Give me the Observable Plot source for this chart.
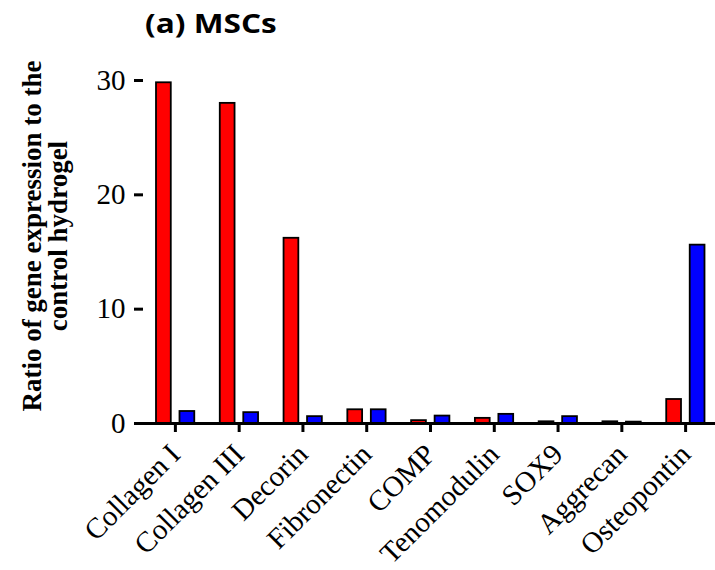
<!DOCTYPE html>
<html>
<head>
<meta charset="utf-8">
<script src="https://cdn.jsdelivr.net/npm/d3@7"></script>
<script src="https://cdn.jsdelivr.net/npm/@observablehq/plot@0.6"></script>
<style>
  html, body { margin: 0; padding: 0; background: #fff; }
  #wrap { position: relative; width: 715px; height: 570px; overflow: hidden; }
  #title { position: absolute; left: 145px; top: 7px; font: bold 27px "Open Sans", sans-serif; color: #000; line-height: 1.2; white-space: nowrap; transform: scaleX(1.17); transform-origin: left center; }
  #ylabel { position: absolute; left: 45px; top: 236px; transform: translate(-50%, -50%) rotate(-90deg);
    font: bold 27px "Liberation Serif", "Times New Roman", serif; line-height: 26px; text-align: center; white-space: nowrap; color: #000; }
  #chart { position: absolute; left: 0; top: 0; }
</style>
</head>
<body>
<div id="wrap">
  <div id="chart"></div>
  <div id="title">(a) MSCs</div>
  <div id="ylabel">Ratio of gene expression to the<br>control hydrogel</div>
</div>
<script>
const categories = ["Collagen I", "Collagen III", "Decorin", "Fibronectin", "COMP", "Tenomodulin", "SOX9", "Aggrecan", "Osteopontin"];
const redValues  = [29.8, 28.0, 16.2, 1.2, 0.25, 0.45, 0.15, 0.15, 2.1];
const blueValues = [1.05, 0.95, 0.6, 1.2, 0.65, 0.8, 0.6, 0.12, 15.6];
const yTicks = [0, 10, 20, 30];

const redData = categories.map((c, i) => ({category: c, value: redValues[i]}));
const blueData = categories.map((c, i) => ({category: c, value: blueValues[i]}));

const chart = Plot.plot({
  width: 715,
  height: 570,
  marginTop: 80,
  marginBottom: 147,
  marginLeft: 143,
  marginRight: -2,
  style: {fontFamily: "'Liberation Serif', 'Times New Roman', serif", color: "#000", background: "transparent"},
  x: {domain: categories, padding: 0, round: false, label: null},
  y: {domain: [0, 30], label: null},
  marks: [
    Plot.barY(redData, {x: "category", y: "value", fill: "#ff0000", stroke: "#000", strokeWidth: 1.8, insetLeft: 13, insetRight: 36}),
    Plot.barY(blueData, {x: "category", y: "value", fill: "#0000ff", stroke: "#000", strokeWidth: 1.8, insetLeft: 36.5, insetRight: 12.5}),
    Plot.ruleY([0], {strokeWidth: 3, stroke: "#000"}),
    Plot.axisY({ticks: yTicks, tickSize: 9, tickPadding: 9, fontSize: 29, strokeWidth: 3, line: true, label: null}),
    Plot.axisX({tickRotate: -45, tickSize: 9, tickPadding: 17, fontSize: 29, strokeWidth: 3, label: null})
  ]
});
document.getElementById("chart").appendChild(chart);
</script>
</body>
</html>
